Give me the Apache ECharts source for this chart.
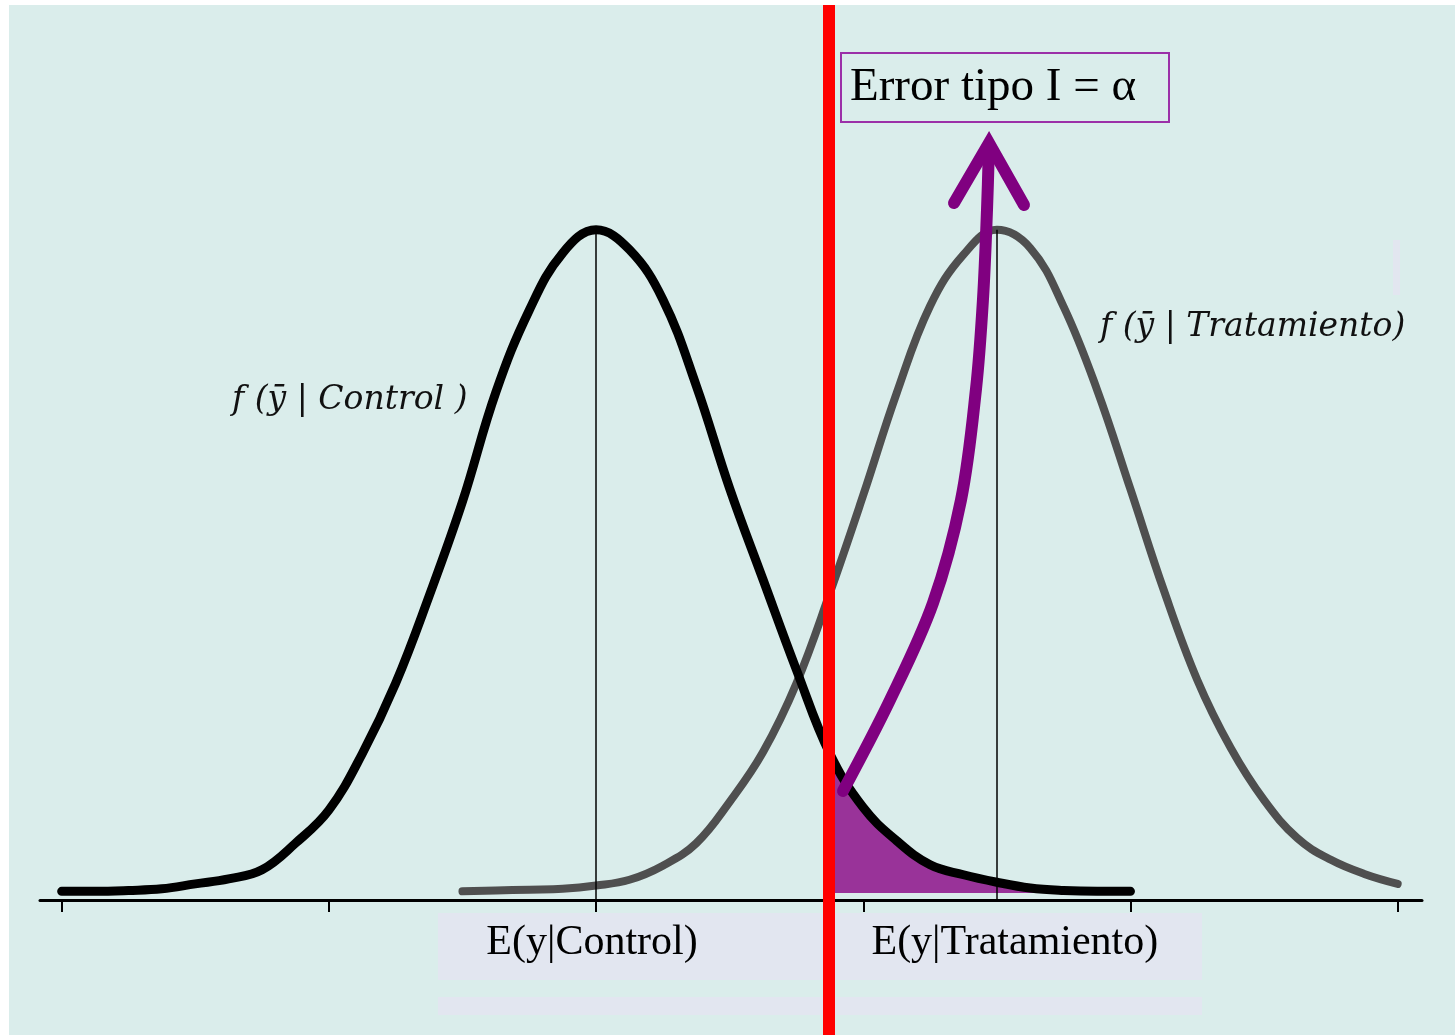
<!DOCTYPE html>
<html><head><meta charset="utf-8">
<script src="https://cdn.jsdelivr.net/npm/echarts@6/dist/echarts.min.js"></script>
<style>
html,body{margin:0;padding:0;background:#fff;overflow:hidden;}
#bg{position:absolute;left:9px;top:5px;width:1446px;height:1030px;background:#daedeb;}
#chart{position:absolute;left:0;top:0;width:1455px;height:1035px;}
</style></head><body><div id="bg"></div><div id="chart"></div>
<script>
// ---- data ----
const controlX = [-2, -1.875, -1.75, -1.625, -1.5, -1.375, -1.25, -1.125, -1, -0.875, -0.75, -0.625, -0.5, -0.375, -0.25, -0.125, 0, 0.125, 0.25, 0.375, 0.5, 0.625, 0.75, 0.875, 1, 1.125, 1.25, 1.375, 1.5, 1.625, 1.75, 1.875, 2];
const controlY = [0.002, 0.002, 0.003, 0.005, 0.011, 0.017, 0.028, 0.060, 0.100, 0.168, 0.253, 0.358, 0.472, 0.604, 0.703, 0.772, 0.800, 0.776, 0.716, 0.612, 0.488, 0.378, 0.269, 0.168, 0.103, 0.063, 0.034, 0.022, 0.013, 0.006, 0.003, 0.002, 0.002];
const treatX = [-0.5, -0.375, -0.25, -0.125, 0, 0.125, 0.25, 0.375, 0.5, 0.625, 0.75, 0.875, 1, 1.125, 1.25, 1.375, 1.5, 1.625, 1.75, 1.875, 2, 2.125, 2.25, 2.375, 2.5, 2.625, 2.75, 2.875, 3];
const treatY = [0.002, 0.003, 0.004, 0.005, 0.009, 0.016, 0.033, 0.060, 0.110, 0.170, 0.253, 0.362, 0.480, 0.603, 0.708, 0.770, 0.800, 0.778, 0.707, 0.607, 0.487, 0.365, 0.257, 0.175, 0.112, 0.066, 0.040, 0.023, 0.011];
const meanControl = 0;
const meanTreat = 1.5;
const peakControl = 0.8;
const peakTreat = 0.8;
const criticalValue = 0.87;
const shadeEnd = 1.875;
const tickValues = [-2, -1, 0, 1, 2, 3];
const labelValues = [0, 1.5];
const labelTexts = ['E(y|Control)', 'E(y|Tratamiento)'];
const controlLabel = 'f (ȳ | Control )';
const treatLabel = 'f (ȳ | Tratamiento)';
const alphaLabel = 'Error tipo I = α';

const controlData = controlX.map((x, i) => [x, controlY[i]]);
const treatData = treatX.map((x, i) => [x, treatY[i]]);
const tailData = controlData.filter(d => d[0] >= criticalValue && d[0] <= shadeEnd);

const chart = echarts.init(document.getElementById('chart'), null, {renderer: 'canvas'});
const serif = '"Liberation Serif", "DejaVu Serif", serif';

chart.setOption({
  backgroundColor: 'transparent',
  animation: false,
  grid: {left: 40, right: 33, top: 5, bottom: 0, containLabel: false},
  xAxis: {
    type: 'value', min: -2.081, max: 3.091, position: 'bottom', offset: -135,
    axisLine: {onZero: false, lineStyle: {color: '#000', width: 3}},
    axisTick: {customValues: tickValues, length: 12, lineStyle: {color: '#000', width: 2}},
    axisLabel: {
      customValues: labelValues,
      formatter: v => (v === labelValues[1] ? '{t|' + labelTexts[1] + '}' : '{c|' + labelTexts[0] + '}'),
      fontFamily: serif, fontSize: 42, color: '#000', margin: 22, lineHeight: 42,
      rich: {
        c: {fontFamily: serif, fontSize: 42, color: '#000', lineHeight: 42, padding: [0, 8, 0, 0]},
        t: {fontFamily: serif, fontSize: 42, color: '#000', lineHeight: 42, padding: [0, 0, 0, 36]}
      }
    },
    splitLine: {show: false}
  },
  yAxis: {type: 'value', min: -0.1713, max: 1.0712, show: false},
  series: [
    {
      type: 'line', data: tailData, symbol: 'none', smooth: 0.4, z: 1,
      lineStyle: {width: 2, color: '#800080'},
      areaStyle: {color: '#993399', opacity: 1}
    },
    {
      type: 'line', data: controlData, symbol: 'none', smooth: 0.4, z: 3,
      lineStyle: {width: 9, color: '#000', cap: 'round'},
      markLine: {
        silent: true, symbol: 'none', label: {show: false},
        lineStyle: {color: '#000', width: 1.5, type: 'solid'},
        data: [[{coord: [meanControl, -0.0084]}, {coord: [meanControl, peakControl]}]]
      }
    },
    {
      type: 'line', data: treatData, symbol: 'none', smooth: 0.4, z: 2,
      lineStyle: {width: 8, color: '#4f4f4f', cap: 'round'},
      markLine: {
        silent: true, symbol: 'none', label: {show: false},
        lineStyle: {color: '#000', width: 1.5, type: 'solid'},
        data: [[{coord: [meanTreat, -0.0084]}, {coord: [meanTreat, peakTreat]}]]
      }
    },
    {
      type: 'line', data: [], z: 6,
      markLine: {
        silent: true, symbol: 'none', label: {show: false},
        lineStyle: {color: '#ff0000', width: 12, type: 'solid'},
        data: [{xAxis: criticalValue}]
      }
    }
  ],
  graphic: [
    {type: 'rect', z: -10, shape: {x: 438, y: 913, width: 764, height: 67}, style: {fill: '#e2e6f0'}},
    {type: 'rect', z: -10, shape: {x: 438, y: 997, width: 764, height: 18}, style: {fill: '#e2e6f0'}},
    {type: 'rect', z: -10, shape: {x: 1393, y: 240, width: 7, height: 55}, style: {fill: '#e2e6f0'}},
    {type: 'text', z: 50, x: 232, y: 400,
      style: {text: controlLabel, fontFamily: '"DejaVu Serif", serif', fontStyle: 'italic', fontSize: 33, fill: '#111', align: 'left', verticalAlign: 'middle'}},
    {type: 'text', z: 50, x: 1100, y: 327,
      style: {text: treatLabel, fontFamily: '"DejaVu Serif", serif', fontStyle: 'italic', fontSize: 33, fill: '#111', align: 'left', verticalAlign: 'middle'}},
    {type: 'rect', z: 50, shape: {x: 841, y: 53, width: 328, height: 69},
      style: {fill: null, stroke: '#9b30a8', lineWidth: 2}},
    {type: 'text', z: 51, x: 850, y: 88,
      style: {text: alphaLabel, fontFamily: serif, fontSize: 47, fill: '#000', align: 'left', verticalAlign: 'middle'}},
    {type: 'polyline', z: 60,
      shape: {points: [[843, 791], [890, 700], [933, 603], [961, 500], [976, 389], [983, 299], [987, 210], [989, 145]], smooth: 0.35},
      style: {stroke: '#800080', lineWidth: 12, fill: null, lineCap: 'round'}},
    {type: 'polyline', z: 60,
      shape: {points: [[954, 203], [989, 143], [1024, 205]]},
      style: {stroke: '#800080', lineWidth: 12, fill: null, lineCap: 'round', lineJoin: 'miter'}}
  ]
});
</script></body></html>
